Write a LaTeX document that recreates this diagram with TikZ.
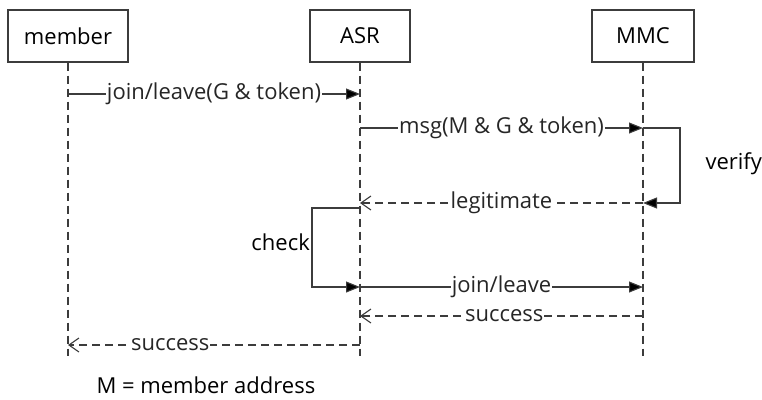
\documentclass[tikz,border=0pt]{standalone}
\usepackage{fontspec}
\setmainfont{Open Sans}
\usetikzlibrary{arrows.meta}
\definecolor{ln}{HTML}{3C3C3C}
\tikzset{
  actor/.style={draw=ln, line width=1.1pt, minimum width=120pt, minimum height=52pt, inner sep=0pt},
  life/.style={draw=ln, line width=1.1pt, dash pattern=on 8pt off 5pt},
  call/.style={draw=ln, line width=1.1pt, -{Triangle[length=14pt,width=11pt,fill=black]}},
  reply/.style={draw=ln, line width=1.1pt, dash pattern=on 8pt off 5pt, -{Straight Barb[length=10pt,width=14pt]}},
  lbl/.style={fill=white, inner sep=1pt, text=black!85}
}
\begin{document}
\begin{tikzpicture}[x=1pt, y=-1pt, font=\fontsize{22}{26}\selectfont]
    \useasboundingbox (0,0) rectangle (762,399);

    %actors
    \node[actor] (member) at (68,36) {member};
    \node[actor, minimum width=100pt] (ASR) at (360,36) {ASR};
    \node[actor, minimum width=102pt] (MMC) at (643,36) {MMC};
    \coordinate (memberE) at (68,356);
    \coordinate (ASRE) at (360,356);
    \coordinate (MMCE) at (643,356);
    \path [life] (member) -- (memberE);
    \path [life] (ASR) -- (ASRE);
    \path [life] (MMC) -- (MMCE);

    %request
    \coordinate (M1) at (68,94);
    \coordinate (A1) at (360,94);
    \path [call] (M1) -- node[lbl] {join/leave(G \& token)} (A1);
    \coordinate (A2) at (360,128);
    \coordinate (C2) at (643,128);
    \path [call] (A2) -- node[lbl] {msg(M \& G \& token)} (C2);

    %verify
    \coordinate (C3) at (643,203);
    \path [call] (C2) -- ++(37,0) |- (C3);
    \node[anchor=west] (verify) at (702,164) {verify};
    \coordinate (A3) at (360,203);
    \path [reply] (C3) -- node[lbl] {legitimate} (A3);

    %check
    \coordinate (A4) at (360,208);
    \coordinate (A5) at (360,287);
    \path [call] (A4) -- ++(-48,0) |- (A5);
    \node[anchor=east, inner sep=1pt] (check) at (311,242) {check};
    \coordinate (C5) at (643,287);
    \path [call] (A5) -- node[lbl] {join/leave} (C5);

    %replies
    \coordinate (C6) at (643,316);
    \coordinate (A6) at (360,316);
    \path [reply] (C6) -- node[lbl, pos=0.49] {success} (A6);
    \coordinate (A7) at (360,345);
    \coordinate (M7) at (68,345);
    \path [reply] (A7) -- node[lbl, pos=0.65] {success} (M7);

    \node[anchor=west] (note) at (93,385) {M = member address};
\end{tikzpicture}
\end{document}
